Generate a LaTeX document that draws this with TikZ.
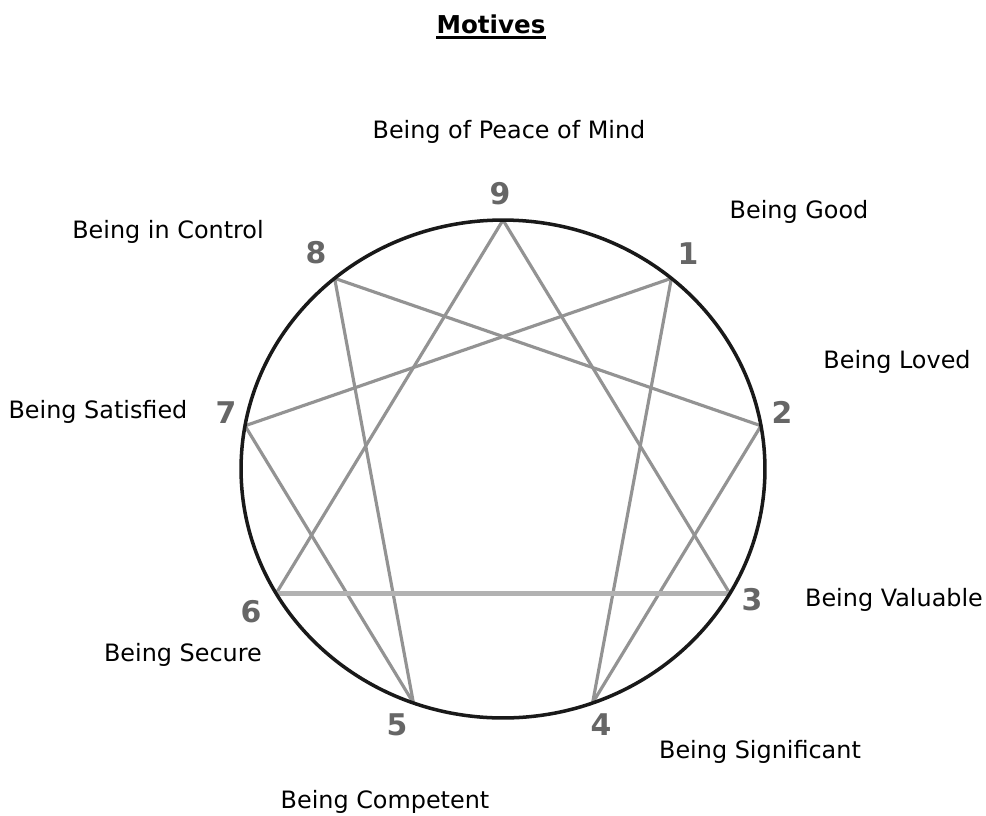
\documentclass[tikz,border=0pt]{standalone}
\usepackage{fontspec}
\setmainfont{DejaVu Sans}
\usepackage{tikz}

\begin{document}
\begin{tikzpicture}[
				x=0.02cm, y=-0.02cm,
				chord/.style = {draw, gray!85, line width=1.8pt},
				base/.style = {draw, gray!60, line width=2.8pt},
				ring/.style = {draw, black!90, line width=2pt},
				digit/.style = {font=\fontsize{17}{17}\selectfont\bfseries, black!60},
				motive/.style = {font=\fontsize{13.6}{15}\selectfont}
				]
				\useasboundingbox (0,0) rectangle (986,815);
				
				\coordinate (c) at (503,469);
				\foreach \n/\a in {9/90, 1/50, 2/10, 3/-30, 4/-70, 5/-110, 6/-150, 7/170, 8/130}
					\path (c) ++(\a:5.24cm and 4.98cm) coordinate (p\n);
				
				% the inner figure
				\foreach \s/\t in {1/4, 4/2, 2/8, 8/5, 5/7, 7/1, 9/3, 6/9}
					\draw[chord] (p\s) -- (p\t);
				\draw[base] (p6) -- (p3);
				\draw[ring] (c) ellipse [x radius=5.24cm, y radius=4.98cm];
				
				% numbers
				\node[digit] (n9) at (500,194) {9};
				\node[digit] (n1) at (688,254) {1};
				\node[digit] (n2) at (782,412) {2};
				\node[digit] (n3) at (752,600) {3};
				\node[digit] (n4) at (601,725) {4};
				\node[digit] (n5) at (397,725) {5};
				\node[digit] (n6) at (251,612) {6};
				\node[digit] (n7) at (226,413) {7};
				\node[digit] (n8) at (316,253) {8};
				
				% motives
				\node[font=\fontsize{14}{15}\selectfont\bfseries, inner xsep=0pt] (title) at (491,24) {Motives};
				\draw[line width=2pt] ([yshift=-2.5pt]title.base west) -- ([yshift=-2.5pt]title.base east);
				\node[motive] (m9) at (509,132) {Being of Peace of Mind};
				\node[motive] (m1) at (799,212) {Being Good};
				\node[motive] (m8) at (168,232) {Being in Control};
				\node[motive] (m2) at (897,362) {Being Loved};
				\node[motive] (m7) at (98,412) {Being Satisfied};
				\node[motive] (m3) at (894,600) {Being Valuable};
				\node[motive] (m6) at (183,655) {Being Secure};
				\node[motive] (m4) at (760,752) {Being Significant};
				\node[motive] (m5) at (385,802) {Being Competent};
			\end{tikzpicture}
\end{document}
